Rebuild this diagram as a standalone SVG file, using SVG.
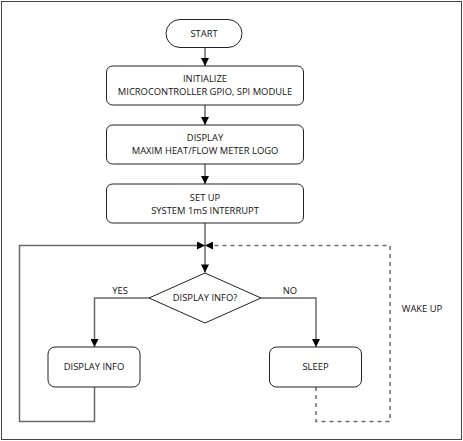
<svg xmlns="http://www.w3.org/2000/svg" width="463" height="441" viewBox="0 0 463 441">
<style>
.box{fill:#fff;stroke:#222;stroke-width:1}
.t{font-family:"Open Sans","Noto Sans","Liberation Sans",sans-serif;font-size:9.4px;fill:#111;text-anchor:middle}
.ln{fill:none;stroke:#6a6a6a;stroke-width:1.5}
.dash{fill:none;stroke:#6a6a6a;stroke-width:1.5;stroke-dasharray:4,4}
</style>
<defs>
<marker id="ah" viewBox="0 0 10 10" refX="10" refY="5" markerWidth="10" markerHeight="8" markerUnits="userSpaceOnUse" orient="auto">
<path d="M0,0 L10,5 L0,10 Z" fill="#000"/>
</marker>
</defs>
<rect x="1.5" y="1.5" width="460" height="438" fill="#fff" stroke="#444" stroke-width="1"/>
<g id="connectors">
<line class="ln" x1="205" y1="47" x2="205" y2="66" marker-end="url(#ah)"/>
<line class="ln" x1="205" y1="105" x2="205" y2="125" marker-end="url(#ah)"/>
<line class="ln" x1="205" y1="164" x2="205" y2="184" marker-end="url(#ah)"/>
<line class="ln" x1="205" y1="223" x2="205" y2="272.5" marker-end="url(#ah)"/>
<polyline class="ln" points="94.5,387 94.5,421.5 19.5,421.5 19.5,245.5 205,245.5" marker-end="url(#ah)"/>
<polyline class="dash" points="316,387 316,421.5 390,421.5 390,245.5 205,245.5" marker-end="url(#ah)"/>
<polyline class="ln" points="149,298 94.5,298 94.5,347" marker-end="url(#ah)"/>
<polyline class="ln" points="261,298 316,298 316,347" marker-end="url(#ah)"/>
<text class="t" x="120" y="294">YES</text>
<text class="t" x="290" y="294">NO</text>
<text class="t" x="422" y="312">WAKE UP</text>
</g>
<g id="start">
<rect class="box" x="166" y="19.5" width="76" height="28" rx="14"/>
<text class="t" x="204" y="37">START</text>
</g>
<g id="initialize">
<rect class="box" x="106.5" y="66" width="197" height="39" rx="6"/>
<text class="t" x="205" y="82">INITIALIZE</text>
<text class="t" x="205" y="94.5">MICROCONTROLLER GPIO, SPI MODULE</text>
</g>
<g id="display">
<rect class="box" x="106.5" y="125" width="197" height="39" rx="6"/>
<text class="t" x="205" y="141">DISPLAY</text>
<text class="t" x="205" y="154">MAXIM HEAT/FLOW METER LOGO</text>
</g>
<g id="setup">
<rect class="box" x="106.5" y="184" width="197" height="39" rx="6"/>
<text class="t" x="205" y="200.5">SET UP</text>
<text class="t" x="205" y="213.5">SYSTEM 1mS INTERRUPT</text>
</g>
<g id="decision">
<polygon class="box" points="205,273 261,298 205,323 149,298"/>
<text class="t" x="205" y="301">DISPLAY INFO?</text>
</g>
<g id="displayinfo">
<rect class="box" x="48" y="347" width="92" height="40" rx="7"/>
<text class="t" x="94" y="370">DISPLAY INFO</text>
</g>
<g id="sleep">
<rect class="box" x="269.5" y="347" width="92" height="40" rx="7"/>
<text class="t" x="315.5" y="370">SLEEP</text>
</g>
</svg>
